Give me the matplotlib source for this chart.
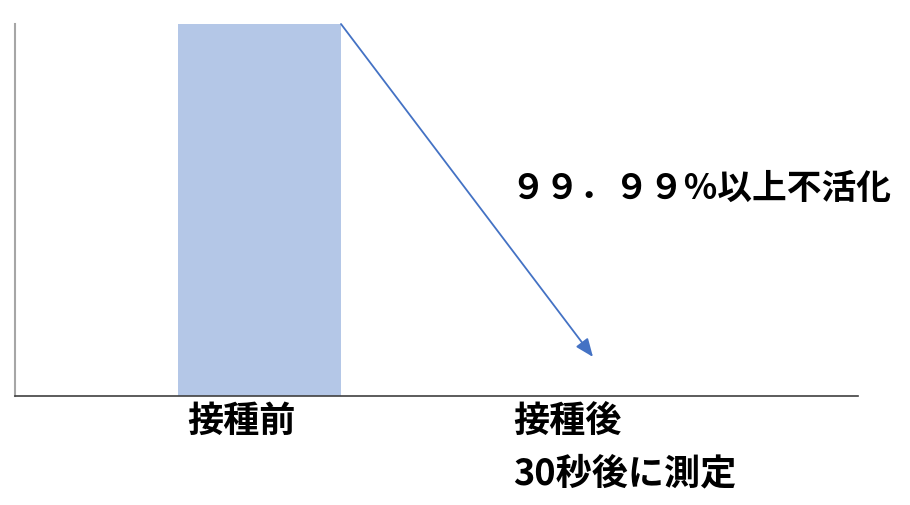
import matplotlib
matplotlib.use("Agg")
import matplotlib.pyplot as plt
import numpy as np

plt.rcParams['font.family'] = ['Noto Sans CJK JP', 'DejaVu Sans']

categories = ['接種前', '接種後\n30秒後に測定']
values = [100, 0]
annotation = '９９．９９%以上不活化'
arrow_end_value = 10.5

fig = plt.figure(figsize=(9.10, 5.06), dpi=100)
ax = fig.add_axes([15/910, 1 - 397/506, 843/910, 372/506])

x = np.arange(len(categories))
ax.bar(x, values, width=0.5, color='#b4c7e7')
ax.set_xlim(-0.75, 1.836)
ax.set_ylim(0, 100)

ax.set_yticks([])
ax.set_xticks(x - 0.222)
ax.set_xticklabels(categories, ha='left', fontsize=26, fontweight='bold', linespacing=1.55)
ax.tick_params(axis='x', length=0, pad=4)

for s in ['top', 'right']:
    ax.spines[s].set_visible(False)
ax.spines['left'].set_color('#a6a6a6')
ax.spines['left'].set_linewidth(1.5)
ax.spines['bottom'].set_color('#404040')
ax.spines['bottom'].set_linewidth(1.2)

ax.annotate('', xy=(x[1] + 0.023, arrow_end_value), xytext=(x[0] + 0.25, values[0]),
            arrowprops=dict(arrowstyle='-|>,head_length=1.1,head_width=0.45',
                            color='#4472c4', lw=1.3, shrinkA=0, shrinkB=0),
            annotation_clip=False)

ax.text(0.768, 56.2, annotation, fontsize=25, fontweight='bold', va='center', ha='left')

fig.savefig('out.png', dpi=100)
